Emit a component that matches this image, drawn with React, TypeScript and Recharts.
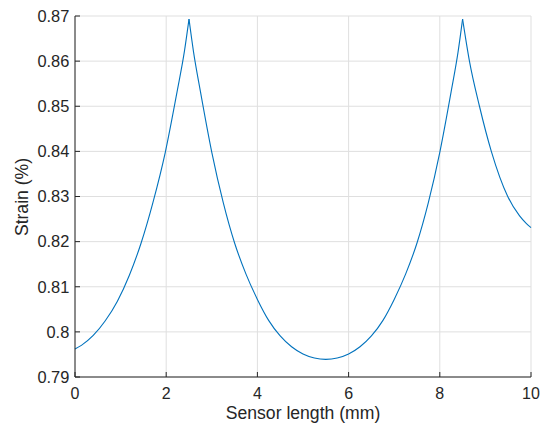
import React from "react";
import { LineChart, Line, XAxis, YAxis, CartesianGrid, Label } from "recharts";

// Segment between x=0 and first peak
const leftX = [0, 0.14, 0.4, 0.66, 0.93, 1.19, 1.45, 1.71, 1.98, 2.24, 2.4, 2.5];
const leftY = [0.7962, 0.797, 0.7992, 0.8024, 0.8068, 0.8125, 0.8197, 0.8287, 0.8398, 0.8533, 0.8622, 0.8693];

// Segment between the two peaks
const midX = [2.5, 2.6, 2.75, 3.0, 3.25, 3.5, 3.75, 4.0, 4.25, 4.5, 4.75, 5.0, 5.25, 5.5, 5.75, 6.0, 6.25, 6.5, 6.75, 7.0, 7.25, 7.5, 7.75, 8.0, 8.25, 8.4, 8.5];
const midY = [0.8693, 0.862, 0.8533, 0.8398, 0.8287, 0.8197, 0.8128, 0.8072, 0.8025, 0.7991, 0.7967, 0.7951, 0.7942, 0.7939, 0.7942, 0.7951, 0.7967, 0.7991, 0.8025, 0.8072, 0.8128, 0.8197, 0.8287, 0.8398, 0.8533, 0.862, 0.8693];

// Segment after the second peak
const rightX = [8.5, 8.65, 8.87, 9.13, 9.49, 9.75, 9.9, 10];
const rightY = [0.8693, 0.86, 0.85, 0.84, 0.83, 0.8257, 0.824, 0.8231];

const xTicks = [0, 2, 4, 6, 8, 10];
const yTicks = [0.79, 0.8, 0.81, 0.82, 0.83, 0.84, 0.85, 0.86, 0.87];

const toPoints = (xs: number[], ys: number[]) => xs.map((x, i) => ({ x, y: ys[i] }));
const leftData = toPoints(leftX, leftY);
const midData = toPoints(midX, midY);
const rightData = toPoints(rightX, rightY);

const FONT = '"Liberation Sans", Arial, Helvetica, sans-serif';
const AXIS = "#262626";
const LINE = "#0072BD";

const fmtY = (v: number) => String(Number(v.toFixed(2)));

export default function App() {
  return (
    <div style={{ position: "absolute", left: 0, top: 0, width: 541, height: 425, background: "#fff" }}>
      <LineChart
        width={541}
        height={425}
        margin={{ top: 16, right: 10, bottom: 0, left: 0 }}
        style={{ fontFamily: FONT }}
      >
        <CartesianGrid stroke="#dfdfdf" strokeWidth={1} />
        <XAxis
          dataKey="x"
          type="number"
          domain={[0, 10]}
          ticks={xTicks}
          allowDuplicatedCategory={false}
          height={48}
          stroke={AXIS}
          tickSize={-5}
          tickMargin={16}
          tick={{ fill: AXIS, fontSize: 16, fontFamily: FONT }}
        >
          <Label
            content={() => (
              <text x={303} y={418.5} textAnchor="middle" fill={AXIS} fontSize={17.6} fontFamily={FONT}>
                Sensor length (mm)
              </text>
            )}
          />
        </XAxis>
        <XAxis
          xAxisId="top"
          orientation="top"
          dataKey="x"
          type="number"
          domain={[0, 10]}
          ticks={xTicks}
          height={0}
          stroke={AXIS}
          tickSize={-5}
          tick={false}
        />
        <YAxis
          type="number"
          domain={[0.79, 0.87]}
          ticks={yTicks}
          width={75}
          stroke={AXIS}
          tickSize={-5}
          tickMargin={10.7}
          tickFormatter={fmtY}
          tick={{ fill: AXIS, fontSize: 16.4, fontFamily: FONT }}
        >
          <Label
            content={() => (
              <text
                x={28}
                y={197}
                textAnchor="middle"
                fill={AXIS}
                fontSize={17.6}
                fontFamily={FONT}
                transform="rotate(-90, 28, 197)"
              >
                Strain (%)
              </text>
            )}
          />
        </YAxis>
        <YAxis
          yAxisId="right"
          orientation="right"
          type="number"
          domain={[0.79, 0.87]}
          ticks={yTicks}
          width={0}
          stroke={AXIS}
          tickSize={-5}
          tick={false}
        />
        <Line data={leftData} dataKey="y" type="monotone" stroke={LINE} strokeWidth={1.1} dot={false} isAnimationActive={false} />
        <Line data={midData} dataKey="y" type="monotone" stroke={LINE} strokeWidth={1.1} dot={false} isAnimationActive={false} />
        <Line data={rightData} dataKey="y" type="monotone" stroke={LINE} strokeWidth={1.1} dot={false} isAnimationActive={false} />
      </LineChart>
    </div>
  );
}
